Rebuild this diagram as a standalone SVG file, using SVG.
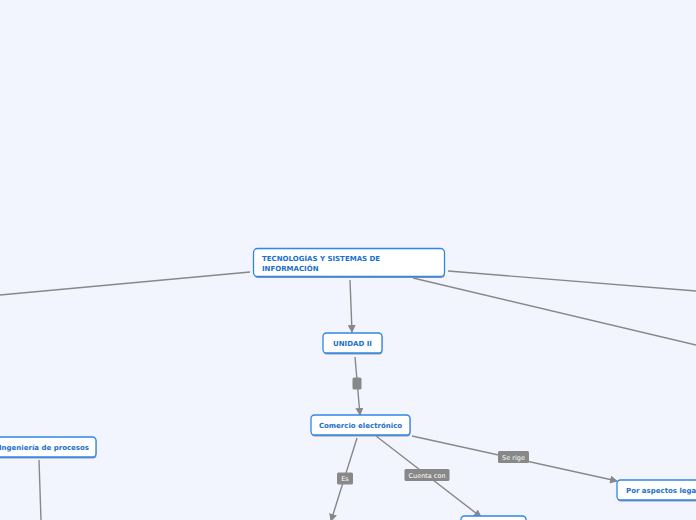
<svg xmlns="http://www.w3.org/2000/svg" width="696" height="520" viewBox="0 0 696 520">
<defs>
<marker id="ah" markerWidth="8" markerHeight="8" refX="7" refY="4" orient="auto" markerUnits="userSpaceOnUse">
<path d="M0,0 L8,4 L0,8 Z" fill="#888"/>
</marker>
<style>
.n rect.b{fill:#fff;stroke:#2f86e8;stroke-width:1.3}
.n rect.s{fill:#8d96a8}
.n text{font-family:"DejaVu Sans",Verdana,sans-serif;font-weight:bold;font-size:7px;fill:#1a6fd0}
.c line{stroke:#888;stroke-width:1.4;fill:none}
.c .a{marker-end:url(#ah)}
.l rect{fill:#888}
.l text{font-family:"DejaVu Sans",Verdana,sans-serif;font-size:6.5px;fill:#fff;text-anchor:middle}
</style>
</defs>
<rect width="696" height="520" fill="#f2f5fe"/>
<g id="connectors" class="c">
<line x1="250" y1="272" x2="0" y2="295"/>
<line x1="448" y1="271" x2="696" y2="291"/>
<line x1="413" y1="278" x2="696" y2="345"/>
<line class="a" x1="350" y1="280" x2="352" y2="332"/>
<line class="a" x1="355" y1="357" x2="360" y2="415"/>
<line class="a" x1="357" y1="438" x2="331" y2="521"/>
<line class="a" x1="376" y1="436" x2="481" y2="517"/>
<line class="a" x1="412" y1="436" x2="617" y2="481"/>
<line x1="39" y1="460" x2="41" y2="520"/>
</g>
<g id="labels" class="l">
<rect x="352.5" y="377.5" width="9" height="12" rx="1.5"/>
<g id="label-es"><rect x="337" y="472.5" width="16" height="12" rx="1.5"/><text x="345" y="481">Es</text></g>
<g id="label-cuenta"><rect x="404.5" y="469" width="45" height="12" rx="1.5"/><text x="427" y="477.5">Cuenta con</text></g>
<g id="label-rige"><rect x="498" y="451" width="31" height="12" rx="1.5"/><text x="513.5" y="459.5">Se rige</text></g>
</g>
<g id="node-main" class="n">
<rect class="s" x="254" y="249.5" width="191" height="28.5" rx="4"/>
<rect class="b" x="253.5" y="248.5" width="191" height="28" rx="4"/>
<text x="262" y="261">TECNOLOGÍAS Y SISTEMAS DE</text>
<text x="262" y="270.5">INFORMACIÓN</text>
</g>
<g id="node-unidad" class="n">
<rect class="s" x="323.5" y="334" width="59" height="20.5" rx="3.5"/>
<rect class="b" x="323" y="333" width="59" height="20" rx="3.5"/>
<text x="352.5" y="345.5" text-anchor="middle">UNIDAD II</text>
</g>
<g id="node-comercio" class="n">
<rect class="s" x="311.5" y="416" width="99" height="20.5" rx="3.5"/>
<rect class="b" x="311" y="415" width="99" height="20" rx="3.5"/>
<text x="360.5" y="427.5" text-anchor="middle">Comercio electrónico</text>
</g>
<g id="node-ingenieria" class="n">
<rect class="s" x="-9.5" y="438" width="106" height="20.5" rx="3.5"/>
<rect class="b" x="-10" y="437" width="106" height="20" rx="3.5"/>
<text x="44" y="449.5" text-anchor="middle">Ingeniería de procesos</text>
</g>
<g id="node-legales" class="n">
<rect class="s" x="617.5" y="481" width="100" height="20.5" rx="3.5"/>
<rect class="b" x="617" y="480" width="100" height="20" rx="3.5"/>
<text x="626" y="492.5">Por aspectos legales</text>
</g>
<g id="node-bottom" class="n">
<rect class="s" x="461.5" y="517" width="65" height="20" rx="3.5"/>
<rect class="b" x="461" y="516" width="65" height="20" rx="3.5"/>
</g>
</svg>
